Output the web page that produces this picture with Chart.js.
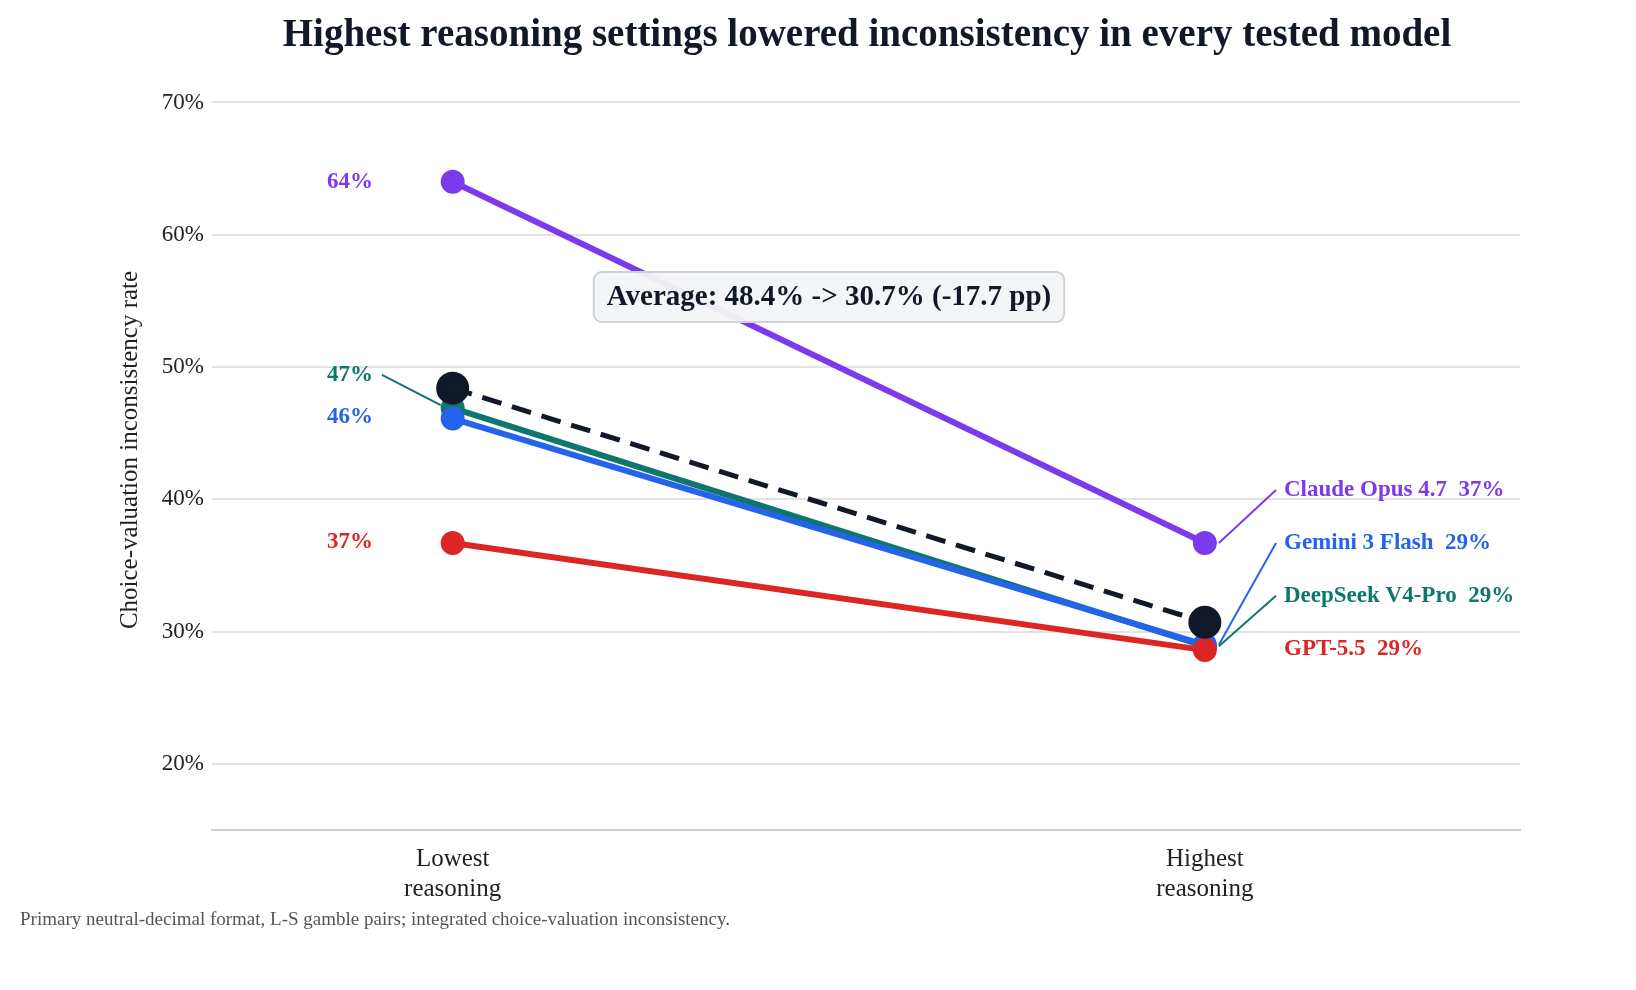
<!DOCTYPE html>
<html>
<head>
<meta charset="utf-8">
<script src="https://cdn.jsdelivr.net/npm/chart.js@4/dist/chart.umd.min.js"></script>
<style>
  html, body { margin: 0; padding: 0; background: #ffffff; }
  #wrap { width: 1636px; height: 990px; }
</style>
</head>
<body>
<div id="wrap"><canvas id="slopeChart"></canvas></div>
<script>
const stages = ["Lowest\nreasoning", "Highest\nreasoning"];
const models = ["Claude Opus 4.7", "Gemini 3 Flash", "DeepSeek V4-Pro", "GPT-5.5"];
const lowest = [64.0, 46.1, 46.9, 36.7];
const highest = [36.7, 29.0, 28.9, 28.6];
const averageValues = [48.4, 30.7];
const yTicks = [20, 30, 40, 50, 60, 70];
const colors = ["#7c3aed", "#2563eb", "#0f766e", "#dc2626"];
const avgColor = "#111827";
// label anchors (in data units) so labels don't overlap
const rightLabelY = [40.7, 36.7, 32.7, 28.7];
const leftLabelY = [64.0, 46.2, 49.4, 36.8];
const drawOrder = [4, 2, 3, 1];

const FONT = "'Liberation Serif', 'DejaVu Serif', serif";

const datasets = models.map((name, i) => ({
  label: name,
  data: [{ x: 0, y: lowest[i] }, { x: 1, y: highest[i] }],
  borderColor: colors[i],
  backgroundColor: colors[i],
  borderWidth: 6,
  pointRadius: 9,
  pointHoverRadius: 9,
  order: drawOrder[i],
}));

datasets.push({
  label: "Average",
  data: averageValues.map((v, i) => ({ x: i, y: v })),
  borderColor: avgColor,
  backgroundColor: avgColor,
  borderWidth: 5,
  borderDash: [20, 11],
  pointRadius: 14,
  pointHoverRadius: 14,
  order: 0,
});

const annotations = {
  id: "annotations",
  afterDatasetsDraw(chart) {
    const { ctx, scales } = chart;
    const x = scales.x, y = scales.y;
    ctx.save();

    // title
    ctx.fillStyle = "#111827";
    ctx.font = "bold 39px " + FONT;
    ctx.textAlign = "center";
    ctx.textBaseline = "middle";
    ctx.fillText("Highest reasoning settings lowered inconsistency in every tested model", 867, 36);

    // y axis title
    ctx.save();
    ctx.translate(130, 450);
    ctx.rotate(-Math.PI / 2);
    ctx.font = "25px " + FONT;
    ctx.fillStyle = "#222";
    ctx.fillText("Choice-valuation inconsistency rate", 0, 0);
    ctx.restore();

    // footnote
    ctx.font = "19px " + FONT;
    ctx.fillStyle = "#555";
    ctx.textAlign = "left";
    ctx.fillText("Primary neutral-decimal format, L-S gamble pairs; integrated choice-valuation inconsistency.", 20, 920);

    // left value labels
    ctx.font = "bold 23px " + FONT;
    ctx.textAlign = "right";
    models.forEach((m, i) => {
      ctx.fillStyle = colors[i];
      ctx.fillText(Math.round(lowest[i]) + "%", 373, y.getPixelForValue(leftLabelY[i]));
    });
    // leader for 47%
    ctx.strokeStyle = colors[2];
    ctx.lineWidth = 2;
    ctx.beginPath();
    ctx.moveTo(382, y.getPixelForValue(leftLabelY[2]));
    ctx.lineTo(x.getPixelForValue(0) - 12, y.getPixelForValue(lowest[2]) - 3);
    ctx.stroke();

    // right labels with leaders
    ctx.textAlign = "left";
    models.forEach((m, i) => {
      const ly = y.getPixelForValue(rightLabelY[i]);
      const px = x.getPixelForValue(1), py = y.getPixelForValue(highest[i]);
      if (i < 3) {
        ctx.strokeStyle = colors[i];
        ctx.lineWidth = 2;
        ctx.beginPath();
        ctx.moveTo(px + 14, py);
        ctx.lineTo(1276, ly);
        ctx.stroke();
      }
      ctx.fillStyle = colors[i];
      ctx.fillText(m + "  " + Math.round(highest[i]) + "%", 1284, ly);
    });

    // average box
    const text = "Average: 48.4% -> 30.7% (-17.7 pp)";
    ctx.font = "bold 29px " + FONT;
    const w = ctx.measureText(text).width + 26;
    const cx = 829, cy = 297, h = 50;
    ctx.beginPath();
    ctx.roundRect(cx - w / 2, cy - h / 2, w, h, 8);
    ctx.fillStyle = "rgba(243,244,246,0.95)";
    ctx.fill();
    ctx.strokeStyle = "#cfd2d6";
    ctx.lineWidth = 2;
    ctx.stroke();
    ctx.fillStyle = "#111827";
    ctx.textAlign = "center";
    ctx.fillText(text, cx, cy + 1);

    ctx.restore();
  },
};

new Chart(document.getElementById("slopeChart"), {
  type: "line",
  data: { datasets },
  options: {
    responsive: true,
    maintainAspectRatio: false,
    animation: false,
    layout: { padding: { top: 76, right: 116, bottom: 0, left: 0 } },
    plugins: { legend: { display: false }, tooltip: { enabled: false } },
    scales: {
      x: {
        type: "linear",
        min: -0.32,
        max: 1.419,
        afterBuildTicks: (s) => { s.ticks = [{ value: 0 }, { value: 1 }]; },
        afterFit: (s) => { s.height = 160; },
        grid: { display: false },
        border: { display: true, color: "#cfcfcf", width: 2 },
        ticks: {
          padding: 6,
          color: "#222",
          font: { family: FONT, size: 25 },
          callback: (v) => stages[v].split("\n"),
        },
      },
      y: {
        min: 15,
        max: 72,
        afterBuildTicks: (s) => { s.ticks = yTicks.map((v) => ({ value: v })); },
        afterFit: (s) => { s.width = 212; },
        grid: { color: "#e3e3e3", lineWidth: 2, drawTicks: false },
        border: { display: false },
        ticks: {
          padding: 8,
          color: "#222",
          font: { family: FONT, size: 23 },
          callback: (v) => v + "%",
        },
      },
    },
  },
  plugins: [annotations],
});
</script>
</body>
</html>
